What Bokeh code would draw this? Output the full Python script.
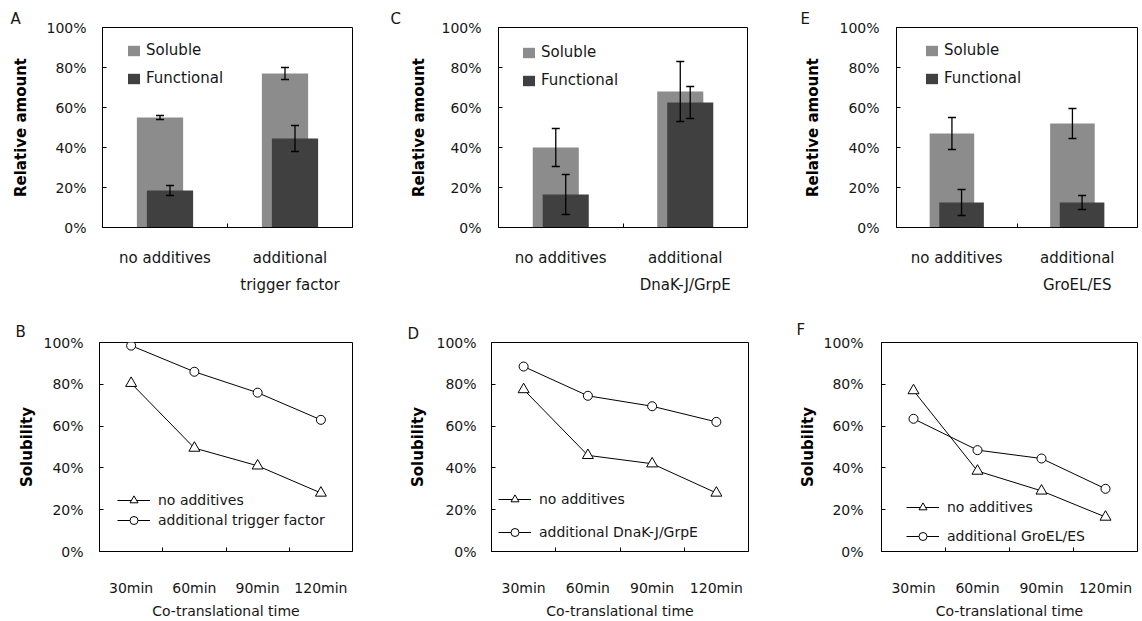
import numpy as np
from bokeh.plotting import figure
from bokeh.models import (Range1d, FixedTicker, PrintfTickFormatter, Whisker, TeeHead,
                          ColumnDataSource, Legend, LegendItem, Title)
from bokeh.layouts import row, column
from bokeh.embed import file_html
from bokeh.resources import INLINE

FONT = "DejaVu Sans"
TXT = "#161616"

# ---------------- data ----------------
y_ticks = [0, 20, 40, 60, 80, 100]

bar_cats_A = ["no additives", "additional\ntrigger factor"]
soluble_A = [55, 77]
soluble_err_A = [1, 3]
functional_A = [18.5, 44.5]
functional_err_A = [2.5, 6.5]

bar_cats_C = ["no additives", "additional\nDnaK-J/GrpE"]
soluble_C = [40, 68]
soluble_err_C = [9.5, 15]
functional_C = [16.5, 62.5]
functional_err_C = [10, 8]

bar_cats_E = ["no additives", "additional\nGroEL/ES"]
soluble_E = [47, 52]
soluble_err_E = [8, 7.5]
functional_E = [12.5, 12.5]
functional_err_E = [6.5, 3.5]

times = ["30min", "60min", "90min", "120min"]
no_add_B = [80.5, 49.5, 41, 28]
trigger_B = [98.5, 86, 76, 63]
no_add_D = [77.5, 46, 42, 28]
dnak_D = [88.5, 74.5, 69.5, 62]
no_add_F = [77, 38.5, 29, 16.5]
groel_F = [63.5, 48.5, 44.5, 30]

SOL_COLOR = "#8c8c8c"
FUN_COLOR = "#404040"


def base(width, height, left, right, top, bottom, cats, ylabel, tick_std, lab_std,
         xlabel=None, x_fs="15px", x_std=15, x_lh=1.5, x_lab_std=5):
    n = len(cats)
    p = figure(width=width, height=height, output_backend="svg", toolbar_location=None,
               tools="", x_range=Range1d(0, n), y_range=Range1d(0, 100))
    p.min_border_left = left
    p.min_border_right = right
    p.min_border_top = top
    p.min_border_bottom = bottom
    p.xgrid.visible = False
    p.ygrid.visible = False
    p.outline_line_color = "black"
    p.outline_line_width = 1
    p.outline_line_alpha = 1
    p.background_fill_color = "white"
    p.border_fill_color = "white"

    ya = p.yaxis[0]
    ya.ticker = FixedTicker(ticks=y_ticks)
    ya.formatter = PrintfTickFormatter(format="%d%%")
    ya.major_tick_in = 4
    ya.major_tick_out = 0
    ya.minor_tick_line_color = None
    ya.axis_line_color = "black"
    ya.major_tick_line_color = "black"
    ya.major_label_text_font = FONT
    ya.major_label_text_font_size = "14px"
    ya.major_label_text_color = TXT
    ya.major_label_standoff = tick_std
    ya.axis_label = ylabel
    ya.axis_label_text_font = FONT
    ya.axis_label_text_font_size = "15px"
    ya.axis_label_text_font_style = "bold"
    ya.axis_label_text_color = "black"
    ya.axis_label_standoff = lab_std

    centers = [i + 0.5 for i in range(n)]
    xa = p.xaxis[0]
    xa.ticker = FixedTicker(ticks=centers, minor_ticks=list(range(1, n)))
    xa.major_label_overrides = {c: lab for c, lab in zip(centers, cats)}
    xa.major_tick_line_color = None
    xa.minor_tick_in = 4
    xa.minor_tick_out = 0
    xa.minor_tick_line_color = "black"
    xa.axis_line_color = "black"
    xa.major_label_text_font = FONT
    xa.major_label_text_font_size = x_fs
    xa.major_label_text_color = TXT
    xa.major_label_standoff = x_std
    xa.major_label_text_line_height = x_lh
    if xlabel:
        xa.axis_label = xlabel
        xa.axis_label_text_font = FONT
        xa.axis_label_text_font_size = "14px"
        xa.axis_label_text_font_style = "normal"
        xa.axis_label_text_color = TXT
        xa.axis_label_standoff = x_lab_std
    return p, np.array(centers)


def letter(p, txt, offset, standoff):
    p.add_layout(Title(text=txt, align="left", offset=offset, standoff=standoff,
                       text_font=FONT, text_font_size="15px", text_font_style="normal",
                       text_color=TXT), "above")


def bar_panel(width, left, right, cats, sol, sol_err, fun, fun_err, tick_std, lab_std,
              let, let_off, let_std, leg_xy):
    p, c = base(width, 310, left, right, 27, 83, cats, "Relative amount", tick_std, lab_std)
    off = 0.04
    bw = 0.37
    r1 = p.vbar(x=c - off, top=sol, width=bw, fill_color=SOL_COLOR, line_color=None)
    r2 = p.vbar(x=c + off, top=fun, width=bw, fill_color=FUN_COLOR, line_color=None)
    for xs, vals, errs in ((c - off, sol, sol_err), (c + off, fun, fun_err)):
        v = np.array(vals, dtype=float)
        e = np.array(errs, dtype=float)
        src = ColumnDataSource(dict(x=xs, lo=v - e, hi=v + e))
        w = Whisker(base="x", lower="lo", upper="hi", source=src, line_color="black",
                    line_width=1.3, level="annotation",
                    upper_head=TeeHead(size=8, line_color="black", line_width=1.3),
                    lower_head=TeeHead(size=8, line_color="black", line_width=1.3))
        p.add_layout(w)
    leg = Legend(items=[LegendItem(label="Soluble", renderers=[r1]),
                        LegendItem(label="Functional", renderers=[r2])],
                 location=leg_xy, border_line_color=None, background_fill_alpha=0,
                 padding=0, margin=0, spacing=8, label_height=20, glyph_height=13,
                 glyph_width=15, label_standoff=5, label_text_font=FONT,
                 label_text_font_size="15px", label_text_color=TXT)
    p.add_layout(leg)
    letter(p, let, let_off, let_std)
    return p


def line_panel(width, left, right, cats, s1, s2, s2_label, tick_std, lab_std,
               let, let_off, let_std, leg_xy, leg_spacing):
    p, c = base(width, 311, left, right, 32, 70, cats, "Solubility", tick_std, lab_std,
                xlabel="Co-translational time", x_fs="14px", x_std=22, x_lh=1.2,
                x_lab_std=4)
    l1 = p.line(c, s1, line_color="black", line_width=1)
    m1 = p.scatter(c, s1, marker="triangle", size=11, fill_color="white",
                   line_color="black", line_width=1)
    l2 = p.line(c, s2, line_color="black", line_width=1)
    m2 = p.scatter(c, s2, marker="circle", size=9, fill_color="white",
                   line_color="black", line_width=1)
    leg = Legend(items=[LegendItem(label="no additives", renderers=[l1, m1]),
                        LegendItem(label=s2_label, renderers=[l2, m2])],
                 location=leg_xy, border_line_color=None, background_fill_alpha=0,
                 padding=0, margin=0, spacing=leg_spacing, label_height=20,
                 glyph_height=20, glyph_width=33, label_standoff=8,
                 label_text_font=FONT, label_text_font_size="14px",
                 label_text_color=TXT)
    p.add_layout(leg)
    letter(p, let, let_off, let_std)
    return p


pA = bar_panel(380, 102, 28, bar_cats_A, soluble_A, soluble_err_A, functional_A,
               functional_err_A, 16, 13, "A", -92, 0, (24, 139))
pC = bar_panel(380, 118, 13, bar_cats_C, soluble_C, soluble_err_C, functional_C,
               functional_err_C, 17, 10, "C", -108, 0, (23, 137))
pE = bar_panel(382, 136, 5, bar_cats_E, soluble_E, soluble_err_E, functional_E,
               functional_err_E, 17, 14, "E", -96, 0, (28, 139))

pB = line_panel(380, 99, 28, times, no_add_B, trigger_B, "additional trigger factor",
                16, 4, "B", -84, 3, (18, 21), 0)
pD = line_panel(380, 111, 12, times, no_add_D, dnak_D, "additional DnaK-J/GrpE",
                15, 6, "D", -84, 0, (7, 9), 13)
pF = line_panel(382, 121, 5, times, no_add_F, groel_F, "additional GroEL/ES",
                18, 3, "F", -85, 8, (25, 5), 9)

layout = column(row(pA, pC, pE, spacing=0), row(pB, pD, pF, spacing=0), spacing=0)

open("out.html", "w").write(file_html(layout, INLINE))
